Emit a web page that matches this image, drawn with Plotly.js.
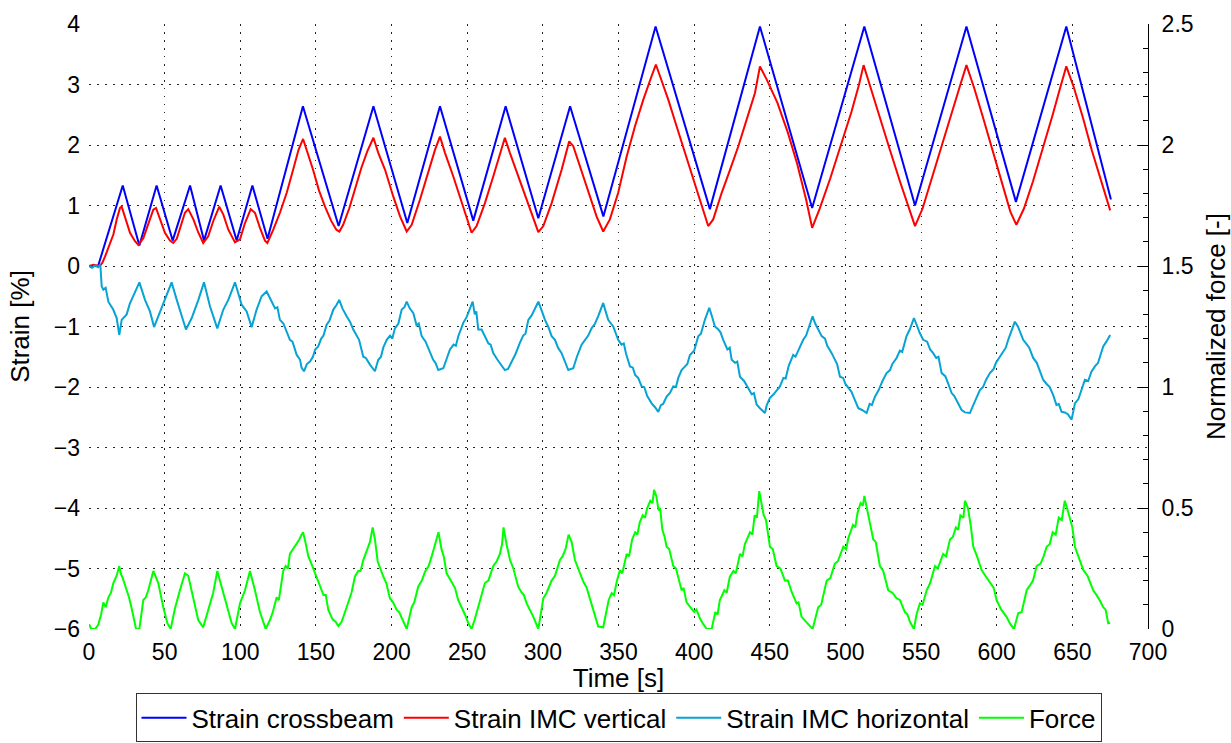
<!DOCTYPE html>
<html>
<head>
<meta charset="utf-8">
<script src="https://cdn.plot.ly/plotly-3.0.1.min.js"></script>
<style>
html,body{margin:0;padding:0;background:#fff;}
#chart{width:1231px;height:743px;}
</style>
</head>
<body>
<div id="chart"></div>
<script>
// Strain crossbeam (vertices of the triangle signal)
const tBeam = [0,6,22.3,33.3,44.7,55.3,66.8,76,87,97.6,108,118,141.4,165,188,210.4,232,254,275.4,297,318,340,374.5,410.4,443.5,478,512.5,546,580,612.7,646,675.5];
const sBeam = [0,0,1.33,0.34,1.33,0.42,1.33,0.42,1.33,0.42,1.33,0.45,2.64,0.66,2.64,0.71,2.64,0.75,2.64,0.79,2.64,0.82,3.96,0.94,3.96,0.96,3.96,1.0,3.96,1.06,3.96,1.1];

// Strain IMC vertical
const tVert = [0,3,7,8.8,10.5,12.8,16.1,18.3,20.5,21.6,23.8,27.1,30.4,32.6,35.9,39.2,42.5,44.3,46.9,50.2,53.5,55.7,58,60.1,63.4,65.6,69,72.3,75.5,78.8,82.1,86.1,88.8,92.1,96.5,99.8,103.1,106.9,109.7,113,116.3,117.9,121.8,126.2,130.7,135,138.5,141.5,144,148,152,156,160,163.5,165.5,168,172,176,180,184,188,191.2,195.7,201.1,205.6,210,213.3,218.8,224.3,228.7,232,235.3,240.8,246.3,250.7,252.9,256.2,261.7,267.2,272.7,274.9,278.2,283.7,289.3,293.7,297,300.3,305.8,312.4,317.4,320.1,324.5,330,335.5,339.9,344.3,349.8,355.4,360.9,366.4,371.9,374.7,377.4,382.9,388.4,393.9,399.4,404.9,409.3,412.6,418.2,423.7,429.2,434.7,440.2,443.5,448,455,462,468,474,478,483,490,497,504,509,512,516,522,529,536,542,546,551,557,563,570,576,580,585,591,598,604,609,613,618,624,630,637,642,646,651,657,663,669,675];
const sVert = [0,0.02,0,0.05,0.15,0.3,0.52,0.77,0.96,0.98,0.82,0.55,0.41,0.35,0.46,0.68,0.93,0.96,0.79,0.55,0.42,0.38,0.45,0.63,0.88,0.94,0.77,0.55,0.38,0.49,0.74,0.98,0.85,0.6,0.39,0.44,0.71,0.94,0.88,0.63,0.42,0.38,0.6,0.88,1.21,1.6,1.92,2.1,1.92,1.6,1.25,0.98,0.75,0.6,0.57,0.68,0.95,1.3,1.62,1.9,2.12,1.87,1.59,1.15,0.82,0.57,0.68,1.1,1.54,1.92,2.14,1.87,1.48,1.04,0.71,0.55,0.66,1.04,1.48,1.92,2.12,1.87,1.48,1.1,0.77,0.56,0.66,1.04,1.59,2.06,1.98,1.65,1.21,0.82,0.57,0.77,1.21,1.81,2.31,2.75,3.14,3.33,3.14,2.75,2.31,1.87,1.43,0.99,0.66,0.77,1.21,1.59,1.98,2.42,2.86,3.3,3.08,2.7,2.2,1.7,1.1,0.63,0.95,1.45,2.0,2.55,3.0,3.32,3.0,2.5,1.95,1.4,0.95,0.66,0.95,1.45,1.95,2.5,3.0,3.32,2.95,2.45,1.85,1.3,0.9,0.68,0.95,1.4,1.9,2.5,2.95,3.3,2.95,2.45,1.9,1.4,0.92];

// Strain IMC horizontal
const tHoriz = [0,2,4,6,7.5,8.4,9.5,11,12.8,16,18.3,20,21.6,24.9,27,29.3,33.3,37,40.3,43,46.9,50.2,54.6,58,61.3,64.1,67.9,72.3,76,80,84.8,88.8,92.1,96.5,100.9,104.2,107.5,110.8,114.1,
  117.4,119,120.7,123,124.5,126.2,128.5,130,132.8,134.5,136,137.3,139.5,140.5,142.1,144,146.1,148,149.5,151.5,153.5,155,157.1,159,161.5,163.5,165.4,167.5,170.3,172.5,174.7,177,178.5,181.3,183,185.7,187.5,189,191.2,193,194.5,196.8,199,200.5,202.2,204.5,206.7,208.5,210,212,214.4,216.5,218,219.9,222.5,225.4,227.5,229,230.9,234.2,236,238.6,241,242.5,244.1,246,247.4,249.5,251.8,253.6,255,256,257.3,259.5,261.7,264,265.5,267.2,270,272,274.9,277,279.4,282,284.8,287,288.5,290.4,292.5,294.5,297,299,301.4,303.5,305.8,308,310,312.4,314.5,316.8,320.1,322.5,325.6,328,330,332.2,334.5,336.6,
  339.9,341.5,343.2,345,346.5,349.8,352,353.5,355,357.6,359.5,361,363,365.3,367,369,371.9,374,376.3,378,379.5,381.8,384,386.2,388,389.5,391.7,394,395.5,397.2,400,402.7,404.5,407.1,410,412,413.7,416,417.5,419.2,422,423.5,424.8,427,428.5,430.3,433,435.8,438,439.5,441.3,443.5,445,446.8,448,450.1,452.5,454,456.7,459,460.5,462.5,465.5,467,469,472.1,474,476,478.3,480,482,484.3,486.5,488,490.9,493,494.5,496.4,498.5,500,501.9,504,506,508.5,511,514,516,517.5,519.5,522,524.5,527.2,529.5,531,533.8,536,537.5,540.4,542.5,545.3,547.5,549,551.4,554,556,558,560,561.5,563.6,566,568,570.2,572,574,576.8,579,582.3,584.5,586,588.9,591,593,595.5,598,599.5,602.1,604.5,606,607.6,610,612,614,615.5,617.5,620,621.5,624.1,626.5,628,630.7,633,635,637.3,639.5,641,642.9,645,647,649.5,651.7,654,656,658.3,660.5,662.5,664.9,667,668.5,670.4,672.5,675];
const sHoriz = [0,-0.03,0.01,-0.02,0.02,-0.34,-0.39,-0.36,-0.59,-0.72,-0.86,-1.14,-0.89,-0.8,-0.62,-0.5,-0.27,-0.56,-0.75,-1.01,-0.75,-0.53,-0.27,-0.56,-0.83,-1.05,-0.86,-0.56,-0.27,-0.67,-1.03,-0.72,-0.56,-0.27,-0.64,-0.75,-1.01,-0.72,-0.5,
  -0.42,-0.5,-0.59,-0.7,-0.68,-0.89,-0.95,-1.05,-1.22,-1.25,-1.38,-1.47,-1.55,-1.68,-1.74,-1.62,-1.58,-1.5,-1.38,-1.33,-1.2,-1.15,-0.97,-0.9,-0.72,-0.65,-0.56,-0.7,-0.83,-0.92,-1.05,-1.15,-1.22,-1.5,-1.52,-1.63,-1.7,-1.74,-1.55,-1.5,-1.35,-1.22,-1.15,-1.2,-1.03,-0.95,-0.72,-0.68,-0.59,-0.7,-0.78,-0.98,-0.95,-1.16,-1.25,-1.44,-1.55,-1.6,-1.72,-1.69,-1.55,-1.38,-1.3,-1.32,-1.16,-1.05,-0.94,-0.85,-0.72,-0.59,-0.8,-0.75,-1.05,-1.05,-1.16,-1.28,-1.3,-1.44,-1.55,-1.62,-1.72,-1.7,-1.58,-1.45,-1.27,-1.15,-1.12,-0.89,-0.82,-0.72,-0.59,-0.72,-0.89,-1.0,-1.16,-1.22,-1.35,-1.44,-1.58,-1.72,-1.69,-1.5,-1.3,-1.22,-1.15,-1.03,-0.95,-0.83,
  -0.61,-0.75,-0.89,-0.95,-1.0,-1.22,-1.3,-1.28,-1.45,-1.66,-1.68,-1.8,-1.85,-1.99,-2.0,-2.15,-2.27,-2.33,-2.41,-2.3,-2.28,-2.16,-2.1,-1.99,-2.0,-1.85,-1.72,-1.66,-1.62,-1.47,-1.4,-1.16,-1.12,-0.89,-0.69,-0.85,-1.0,-1.05,-1.1,-1.22,-1.38,-1.35,-1.55,-1.6,-1.58,-1.83,-1.9,-2.02,-2.12,-2.1,-2.29,-2.35,-2.38,-2.43,-2.3,-2.18,-2.12,-2.07,-1.99,-1.85,-1.86,-1.65,-1.47,-1.5,-1.38,-1.22,-1.15,-1.0,-0.83,-0.95,-1.05,-1.16,-1.2,-1.32,-1.44,-1.55,-1.62,-1.83,-1.85,-1.95,-2.02,-2.08,-2.2,-2.35,-2.38,-2.43,-2.28,-2.3,-2.16,-2.05,-1.9,-1.77,-1.72,-1.62,-1.52,-1.4,-1.42,-1.16,-1.05,-0.86,-1.0,-1.1,-1.22,-1.25,-1.38,-1.44,-1.52,-1.5,-1.77,-1.82,-1.95,-2.1,-2.15,-2.25,-2.38,-2.42,-2.43,-2.3,-2.22,-2.05,-2.0,-1.88,-1.77,-1.7,-1.6,-1.5,-1.4,-1.35,-1.22,-1.05,-0.92,-1.0,-1.1,-1.22,-1.3,-1.35,-1.52,-1.6,-1.7,-1.88,-1.95,-2.0,-2.13,-2.3,-2.28,-2.41,-2.42,-2.45,-2.54,-2.27,-2.2,-2.05,-1.88,-1.9,-1.75,-1.66,-1.6,-1.48,-1.33,-1.25,-1.14];

// Force (normalized, right axis)
const tForce = [0,1.5,4,6.1,8,9.5,11,12.8,14.5,16.1,18.3,20,21,22.3,24.9,26.5,28.2,30,31.1,33.3,35.9,37.5,39.2,42.5,44,45.8,49.1,51.8,54,56.8,60.1,63.4,65.6,69,72.2,75.5,78.8,82.1,84.8,87.7,91,94.3,96.5,99.8,103.1,106.4,109.7,113,
  116.8,119.6,121.5,124,125.5,128.4,130,131.5,132.8,135,137.3,139,140.5,141.5,143,145,147,149.4,151,152.7,155,156.5,158.2,161,163,164.8,167,170.3,172,173.5,175.8,178,179.5,181.3,184,185.7,187.5,189,190.8,192.5,194.5,196.5,198.9,201,203.4,205,207.7,210,213.3,215,217.6,220,222.1,224.5,226.5,229,231,233,234.5,236.4,239,241.9,244,246.3,248.5,250.7,252.9,255,257.3,259.5,261.7,264,265.5,267.2,269.5,271.6,273,274,276,278.3,280.5,283.7,286,287.5,289.3,291.5,293.7,297,299,300.3,302.5,305.8,308,311.3,313,315,317,319,321.2,323.5,326.7,329,332.2,334.5,336.6,
  339.9,342,343.5,345.5,347,349,351,352.5,355.4,357,359,361,362.5,364,366,367.5,369,371,372.5,373.5,375,376.5,377.5,379,380.5,381.8,383.5,386.2,388,391.7,393,395,397.2,400,401.5,403.8,406,408.3,411.6,414,415.5,417,420,421.5,423.6,426,427.5,430.3,432,433.5,436.9,438.5,440,441.5,443,444.5,446,447.5,450.1,452,454.5,457,460,462,464.4,467.7,469,471,475.4,478.3,
  482,484,487.6,490,493,495,498.6,500.5,501.9,505,506.5,508,510,511.5,512.5,514,516,518.4,520,522.8,525,528.3,531,533.8,536,539.3,541,542.6,545.3,547,549.2,551,553.7,556,559.2,561,564.6,566.5,569.1,571,573,574.5,576,578,579,581,583,584.5,587,590,592.5,595.5,598,599.9,603,606.5,609,611.4,614.2,616.5,619.8,622,624,626.4,629,631,633,635,637,639,641,643,645,646.5,648,650,651.7,654,657.2,660,663.8,666,668,670.4,672,673.7,675];
const sForce = [0.02,0,0,0.017,0.06,0.11,0.09,0.13,0.15,0.19,0.22,0.26,0.23,0.21,0.16,0.13,0.085,0.04,0,0,0.12,0.13,0.16,0.24,0.22,0.19,0.09,0.024,0,0.085,0.16,0.23,0.22,0.12,0.037,0.007,0.079,0.15,0.24,0.175,0.09,0.024,0,0.106,0.16,0.24,0.16,0.07,
  0,0.037,0.07,0.13,0.12,0.24,0.26,0.25,0.31,0.33,0.35,0.37,0.39,0.4,0.36,0.3,0.27,0.23,0.2,0.17,0.14,0.14,0.079,0.04,0.03,0.012,0.03,0.09,0.12,0.15,0.217,0.24,0.24,0.285,0.33,0.36,0.42,0.37,0.28,0.25,0.217,0.19,0.127,0.11,0.079,0.07,0.03,0,0.09,0.11,0.175,0.2,0.237,0.26,0.3,0.35,0.4,0.33,0.3,0.23,0.2,0.17,0.12,0.09,0.06,0.024,0,0.04,0.09,0.14,0.19,0.2,0.23,0.26,0.28,0.31,0.35,0.42,0.35,0.285,0.25,0.175,0.15,0.14,0.106,0.08,0.05,0,0.08,0.127,0.15,0.2,0.22,0.285,0.3,0.33,0.39,0.36,0.285,0.25,0.196,0.17,0.106,0.06,0.01,
  0.007,0.07,0.12,0.148,0.14,0.2,0.244,0.23,0.31,0.3,0.37,0.4,0.39,0.44,0.47,0.46,0.5,0.53,0.52,0.575,0.55,0.49,0.5,0.41,0.38,0.34,0.33,0.26,0.25,0.16,0.17,0.11,0.09,0.07,0.08,0.044,0.02,0,0,0.07,0.06,0.12,0.16,0.15,0.216,0.24,0.23,0.31,0.3,0.35,0.4,0.39,0.47,0.46,0.57,0.52,0.47,0.45,0.34,0.33,0.26,0.25,0.2,0.2,0.154,0.106,0.11,0.05,0.017,0,
  0.09,0.1,0.2,0.21,0.27,0.28,0.34,0.33,0.375,0.43,0.42,0.48,0.52,0.51,0.55,0.5,0.45,0.37,0.36,0.26,0.24,0.16,0.15,0.127,0.12,0.07,0.06,0.03,0,0.06,0.106,0.1,0.16,0.19,0.26,0.25,0.31,0.3,0.37,0.38,0.42,0.41,0.47,0.46,0.53,0.5,0.42,0.34,0.3,0.244,0.22,0.19,0.17,0.12,0.08,0.05,0.02,0,0.065,0.07,0.16,0.18,0.2,0.26,0.27,0.3,0.34,0.35,0.4,0.39,0.46,0.45,0.53,0.5,0.47,0.42,0.34,0.3,0.244,0.22,0.16,0.14,0.12,0.09,0.08,0.024,0.026];

const seriesNames = ['Strain crossbeam','Strain IMC vertical','Strain IMC horizontal','Force'];

const FONT = "Liberation Sans";
const gridStyle = {showgrid:true, gridcolor:'rgba(0,0,0,0.85)', gridwidth:1, griddash:'1.5px,6.5px', zeroline:false, showline:false, ticks:''};

const traces = [
  {x:tBeam, y:sBeam, name:seriesNames[0], type:'scatter', mode:'lines', line:{color:'#0000ff', width:2}},
  {x:tVert, y:sVert, name:seriesNames[1], type:'scatter', mode:'lines', line:{color:'#ff0000', width:2}},
  {x:tHoriz, y:sHoriz, name:seriesNames[2], type:'scatter', mode:'lines', line:{color:'#06a3d4', width:2}},
  {x:tForce, y:sForce, name:seriesNames[3], type:'scatter', mode:'lines', yaxis:'y2', line:{color:'#00ff00', width:2}}
];

const layout = {
  width:1231, height:743,
  paper_bgcolor:'#fff', plot_bgcolor:'#fff',
  font:{family:FONT, size:23, color:'#000'},
  margin:{l:89, r:83, t:24, b:114, autoexpand:false},
  showlegend:true,
  legend:{orientation:'h', x:0.5, xanchor:'center', yref:'container', y:0.001, yanchor:'bottom', bordercolor:'#333', borderwidth:1, bgcolor:'#fff', font:{family:FONT, size:26, color:'#000'}, itemwidth:45},
  xaxis:Object.assign({range:[0,700], tick0:0, dtick:50, automargin:false, ticklabelstandoff:7, title:{text:'Time [s]', standoff:5, font:{family:FONT, size:26}}}, gridStyle),
  yaxis:Object.assign({range:[-6,4], tick0:-6, dtick:1, automargin:false, ticklabelstandoff:8, title:{text:'Strain [%]', standoff:16, font:{family:FONT, size:26}}}, gridStyle),
  yaxis2:{overlaying:'y', side:'right', range:[0,2.5], tick0:0, dtick:0.5, showgrid:false, zeroline:false, showline:true, linecolor:'#000', linewidth:1, ticks:'inside', ticklen:10, tickcolor:'#000', tickwidth:1, ticklabelstandoff:8, automargin:false,
    minor:{ticks:'inside', ticklen:5, dtick:0.1, tickcolor:'#000', tickwidth:1, showgrid:false},
    title:{text:'Normalized force [-]', standoff:18, font:{family:FONT, size:26}}}
};

Plotly.newPlot('chart', traces, layout, {displayModeBar:false, staticPlot:true});
</script>
</body>
</html>
